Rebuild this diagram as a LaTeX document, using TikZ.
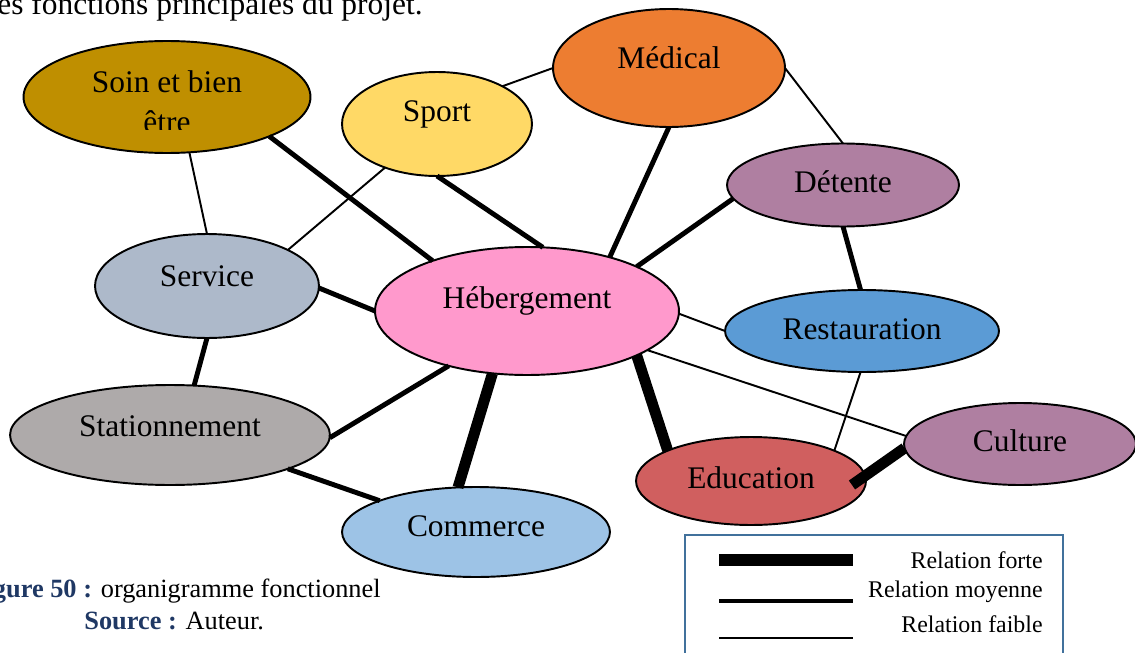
\documentclass[tikz,border=0pt]{standalone}
\usepackage{fontspec}
\setmainfont{Liberation Serif}
\usetikzlibrary{shapes.geometric}
\definecolor{cSoin}{HTML}{BF8F00}
\definecolor{cSport}{HTML}{FFD966}
\definecolor{cMed}{HTML}{ED7D31}
\definecolor{cMauve}{HTML}{AF7FA1}
\definecolor{cServ}{HTML}{ADB9CA}
\definecolor{cHeb}{HTML}{FF99CC}
\definecolor{cRest}{HTML}{5B9BD5}
\definecolor{cStat}{HTML}{AEAAAA}
\definecolor{cEdu}{HTML}{D05F5F}
\definecolor{cComm}{HTML}{9DC3E6}
\definecolor{cNavy}{HTML}{1F3864}
\definecolor{cLeg}{HTML}{41719C}
\begin{document}
\begin{tikzpicture}[x=0.02cm,y=-0.02cm,
  ell/.style={ellipse, draw=black, line width=1.1pt, inner sep=0pt, outer sep=0pt},
  lbl/.style={font=\fontsize{17.9}{21}\selectfont, inner sep=0pt},
  legtxt/.style={font=\fontsize{13.6}{16}\selectfont, inner sep=0pt, anchor=base east},
  captxt/.style={font=\fontsize{15}{18}\selectfont, inner sep=0pt},
  faible/.style={line width=1.1pt},
  moyenne/.style={line width=2.8pt},
  forte/.style={line width=6.2pt},
]
\useasboundingbox (0,0) rectangle (1135,652);

% top text and caption
\node[lbl, anchor=base east] (toptxt) at (423,15) {es fonctions principales du projet.};
\node[captxt, anchor=base east] (cap1) at (381,597) {{\bfseries\color{cNavy}gure 50 :} organigramme fonctionnel};
\node[captxt, anchor=base west] (cap2) at (84,629) {{\bfseries\color{cNavy}Source :} Auteur.};

% ellipses
\node[ell, fill=cSoin,  minimum width=5.74cm, minimum height=2.24cm] (soin)  at (167,97) {};
\node[ell, fill=cSport, minimum width=3.80cm, minimum height=2.08cm] (sport) at (437,124) {};
\node[ell, fill=cMed,   minimum width=4.64cm, minimum height=2.36cm] (med)   at (669,68) {};
\node[ell, fill=cMauve, minimum width=4.64cm, minimum height=1.66cm] (det)   at (843,185) {};
\node[ell, fill=cServ,  minimum width=4.48cm, minimum height=2.08cm] (serv)  at (207,286) {};
\node[ell, fill=cHeb,   minimum width=6.08cm, minimum height=2.56cm] (heb)   at (527,311) {};
\node[ell, fill=cRest,  minimum width=5.48cm, minimum height=1.64cm] (rest)  at (862,331) {};
\node[ell, fill=cStat,  minimum width=6.40cm, minimum height=2.00cm] (stat)  at (170,435) {};
\node[ell, fill=cMauve, minimum width=4.64cm, minimum height=1.64cm] (cult)  at (1020,444) {};
\node[ell, fill=cEdu,   minimum width=4.60cm, minimum height=1.76cm] (edu)   at (751,481) {};
\node[ell, fill=cComm,  minimum width=5.36cm, minimum height=1.80cm] (comm)  at (476,532) {};

% connectors
\draw[faible]  (soin.-68)  -- (serv.90);
\draw[moyenne] (soin.-21)  -- (heb.152);
\draw[faible]  (sport.-140) -- (serv.24);
\draw[faible]  (sport.30)  -- (med.180);
\draw[moyenne] (sport.-90) -- (heb.76);
\draw[moyenne] (med.-90)   -- (heb.33);
\draw[faible]  (med.0)     -- (det.90);
\draw[moyenne] (det.-173)  -- (heb.22);
\draw[moyenne] (det.-90)   -- (rest.92);
\draw[faible]  (heb.-1)    -- (rest.180);
\draw[faible]  (rest.-92)  -- (edu.20);
\draw[faible]  (heb.-18)   -- (cult.176);
\draw[forte]   (heb.-22)   -- (edu.160);
\draw[forte]   ([xshift=2.02cm,yshift=-0.08cm]edu.center) -- (cult.-178);
\draw[forte]   (heb.-119)  -- (comm.112);
\draw[moyenne] (heb.-145)  -- (stat.-1);
\draw[moyenne] (serv.-1)   -- (heb.180);
\draw[moyenne] (serv.-90)  -- (stat.64);
\draw[moyenne] (stat.-16)  -- (comm.162);

% labels
\begin{scope}
\clip (0,40) rectangle (400,129);
\node[lbl] (soint1) at (167,82) {Soin et bien};
\node[lbl] (soint2) at (167,122) {être};
\end{scope}
\node[lbl] (sportt) at (437,114) {Sport};
\node[lbl] (medt)   at (669,58)  {Médical};
\node[lbl] (dett)   at (843,182) {Détente};
\node[lbl] (servt)  at (207,276) {Service};
\node[lbl] (hebt)   at (527,301) {Hébergement};
\node[lbl] (restt)  at (862,329) {Restauration};
\node[lbl] (statt)  at (170,426) {Stationnement};
\node[lbl] (cultt)  at (1020,441) {Culture};
\node[lbl] (edut)   at (751,478) {Education};
\node[lbl] (commt)  at (476,526) {Commerce};

% legend
\draw[draw=cLeg, line width=0.9pt] (685,535) rectangle (1063,680);
\coordinate (lf1) at (719,560);
\coordinate (lf2) at (853,560);
\coordinate (lm1) at (719,601);
\coordinate (lm2) at (853,601);
\coordinate (lw1) at (719,638);
\coordinate (lw2) at (853,638);
\draw[line width=6.6pt] (lf1) -- (lf2);
\draw[moyenne] (lm1) -- (lm2);
\draw[line width=1.5pt] (lw1) -- (lw2);
\node[legtxt] (legf) at (1043,568) {Relation forte};
\node[legtxt] (legm) at (1043,597) {Relation moyenne};
\node[legtxt] (legw) at (1043,632) {Relation faible};
\end{tikzpicture}
\end{document}
